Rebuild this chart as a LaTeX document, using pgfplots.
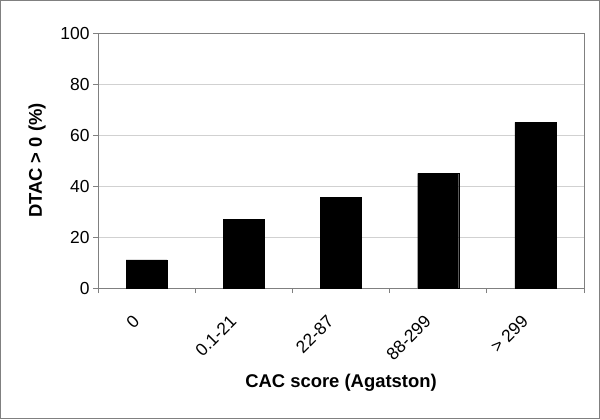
\documentclass[border=0pt]{standalone}
\usepackage{fontspec}
\setmainfont{Liberation Sans}
\usepackage{pgfplots}
\pgfplotsset{compat=1.18}

\begin{document}
\begin{tikzpicture}
\begin{axis}[
    scale only axis,
    width=486bp, height=255bp,
    ymin=0, ymax=100,
    ytick={0,20,...,100},
    xmin=-0.5, xmax=4.5,
    xtick={0,1,2,3,4},
    xticklabels={0, 0.1-21, 22-87, 88-299, > 299},
    minor xtick={-0.5,0.5,1.5,2.5,3.5,4.5},
    major x tick style={draw=none},
    tick align=outside,
    major tick length=5bp, minor tick length=5bp,
    xtick pos=bottom, ytick pos=left,
    tick style={gray, line width=0.8bp},
    axis line style={gray, line width=1bp},
    ymajorgrids,
    grid style={black!18, line width=0.8bp},
    /pgf/number format/assume math mode=true,
    tick label style={font=\fontsize{17.5}{20}\selectfont},
    x tick label style={xshift=-8bp, yshift=-23bp, rotate=45, anchor=east},
    label style={font=\bfseries\fontsize{18.5}{21}\selectfont},
    xlabel={CAC score (Agatston)},
    ylabel={DTAC > 0 (\%)},
    xlabel style={at={(axis description cs:0.5,-0.37)}, anchor=center},
    ylabel style={at={(axis description cs:-0.1255,0.5)}, anchor=center},
]
\addplot[ybar, bar width=41bp, fill=black, draw=black] coordinates {
    (0,11) (1,27) (2,35.5) (3,45) (4,65)
};
\end{axis}
\draw[gray, line width=1bp] ([shift={(-97.5bp,-130.5bp)}]current axis.south west) rectangle ([shift={(15.5bp,32.5bp)}]current axis.north east);
\end{tikzpicture}
\end{document}
